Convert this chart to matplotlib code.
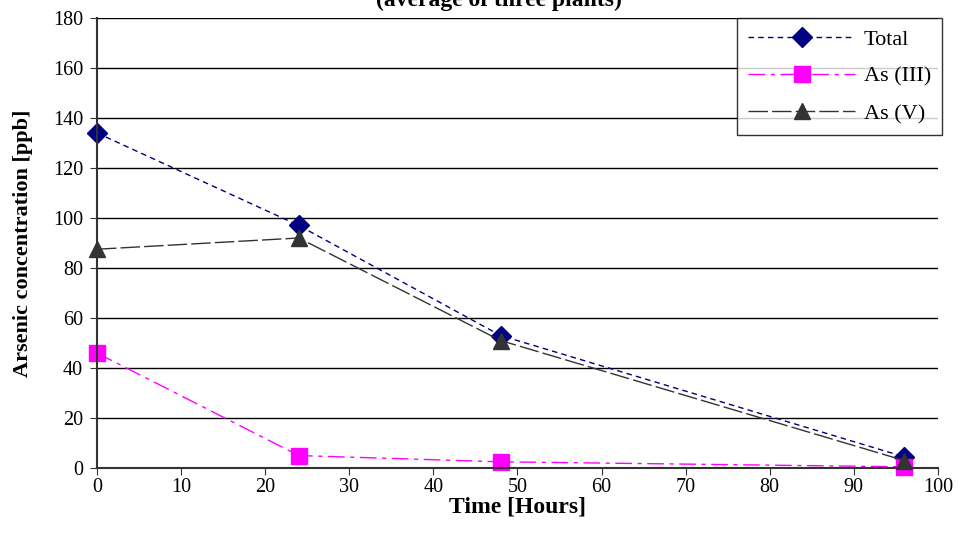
import matplotlib.pyplot as plt

plt.rcParams['font.family'] = ['Liberation Serif', 'DejaVu Serif']

# data
hours = [0, 24, 48, 96]
total = [134, 97, 53, 4.5]
as3 = [46, 5, 2.5, 0.5]
as5 = [87.5, 92, 51, 3]

fig = plt.figure(figsize=(9.6, 5.43), dpi=100)
ax = fig.add_axes([0.101, 0.138, 0.876, 0.829])

ax.plot(hours, total, color='#000080', linestyle=(0, (4, 3)), linewidth=1,
        marker='D', markersize=10, label='Total')
ax.plot(hours, as3, color='#ff00ff', linestyle=(0, (12, 4, 3, 4)), linewidth=1,
        marker='s', markersize=11, label='As (III)')
ax.plot(hours, as5, color='#333333', linestyle=(0, (14, 3)), linewidth=1,
        marker='^', markersize=12, label='As (V)')

ax.set_xlim(0, 100)
ax.set_ylim(0, 180)
ax.set_xticks(range(0, 101, 10))
ax.set_yticks(range(0, 181, 20))
ax.yaxis.grid(True, color='black', linewidth=1)
ax.set_axisbelow(True)
for s in ['top', 'right']:
    ax.spines[s].set_visible(False)
for s in ['left', 'bottom']:
    ax.spines[s].set_color('#333333')
    ax.spines[s].set_linewidth(1.5)
ax.tick_params(labelsize=14.5, length=5, color='#333333')
ax.tick_params(axis='y', pad=5)
ax.tick_params(axis='x', pad=2)
for line in ax.lines:
    line.set_clip_on(False)

ax.set_xlabel('Time [Hours]', fontsize=17, fontweight='bold', labelpad=0)
ax.set_ylabel('Arsenic concentration [ppb]', fontsize=16, fontweight='bold', labelpad=14)

fig.text(0.52, 1 - 6 / 543, '(average of three plants)', ha='center', va='baseline',
         fontsize=17, fontweight='bold')

leg = ax.legend(loc='upper right', bbox_to_anchor=(1.005, 1.0), fontsize=16,
                frameon=True, fancybox=False, edgecolor='black', borderpad=0.5,
                handlelength=4.8, handletextpad=0.4, labelspacing=0.75,
                borderaxespad=0.0)
leg.get_frame().set_linewidth(1)

fig.savefig('out.png', dpi=100)
